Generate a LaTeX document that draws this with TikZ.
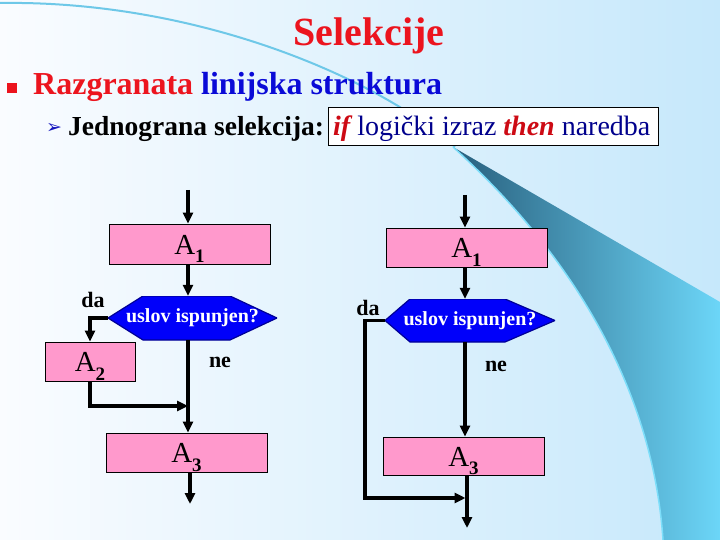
\documentclass[tikz,border=0pt]{standalone}
\usepackage{fontspec}
\setmainfont{Liberation Serif}
\newfontfamily\dejavu{DejaVu Sans}
\usetikzlibrary{arrows.meta}
\definecolor{bgleft}{RGB}{250,252,255}
\definecolor{bgright}{RGB}{198,232,251}
\definecolor{arccol}{RGB}{110,200,232}
\definecolor{swdark}{RGB}{40,95,125}
\definecolor{swlight}{RGB}{108,214,248}
\definecolor{swedge}{RGB}{125,222,250}
\definecolor{titlered}{RGB}{236,20,30}
\definecolor{headblue}{RGB}{10,10,215}
\definecolor{arrowblue}{RGB}{20,20,190}
\definecolor{navy}{RGB}{0,0,140}
\definecolor{ifred}{RGB}{205,10,20}
\definecolor{boxpink}{RGB}{255,153,204}
\definecolor{hexblue}{RGB}{0,0,250}
\definecolor{hexedge}{RGB}{0,0,150}
\newcommand\subidx[1]{\raisebox{-0.3em}{\fontsize{19}{19}\selectfont\bfseries #1}}
\newcommand\Alab[1]{\raisebox{-10pt}[0pt][0pt]{A\subidx{#1}}}
\tikzset{
  box/.style={draw=black, line width=0.8pt, fill=boxpink, minimum width=161pt,
    minimum height=40pt, inner sep=0pt, font=\fontsize{29}{30}\selectfont},
  hexnode/.style 2 args={minimum width=169pt, minimum height=44pt, inner sep=0pt,
    text=white, font=\bfseries\fontsize{20}{22}\selectfont,
    path picture={\filldraw[fill=hexblue, draw=hexedge, line width=1.2pt]
      (path picture bounding box.west)
      -- ([xshift=#1]path picture bounding box.north west)
      -- ([xshift=-#2]path picture bounding box.north east)
      -- (path picture bounding box.east)
      -- ([xshift=-#2]path picture bounding box.south east)
      -- ([xshift=#1]path picture bounding box.south west) -- cycle;}},
  conn/.style={line width=3.6pt, -{Triangle[length=11pt,width=10pt]}},
  lbl/.style={font=\bfseries\fontsize{22}{24}\selectfont, inner sep=0pt}
}
\begin{document}
\begin{tikzpicture}[x=1pt,y=-1pt]
\useasboundingbox (0,0) rectangle (720,540);
% background
\shade[left color=bgleft, right color=bgright] (0,0) rectangle (720,540);
\draw[arccol, line width=2pt] (0,3) .. controls (200,0) and (380,80) .. (455,147);
\shade[left color=swdark, right color=swlight] (453,147) -- (720,302) -- (720,540) -- (663,540)
  .. controls (655,420) and (600,280) .. (453,147) -- cycle;
\draw[swedge, line width=1.5pt] (663,540) .. controls (655,420) and (600,280) .. (453,147);

% header
\node[anchor=base, text=titlered, font=\bfseries\fontsize{40}{42}\selectfont, inner sep=0pt] (title) at (369,46) {Selekcije};
\node[fill=titlered, minimum size=10pt, inner sep=0pt] (sq) at (12,88) {};
\node[anchor=base west, font=\bfseries\fontsize{32}{36}\selectfont, inner sep=0pt] (h1) at (33,95)
  {\textcolor{titlered}{Razgranata} \textcolor{headblue}{linijska struktura}};
\node[anchor=base, text=arrowblue, font=\dejavu\fontsize{19}{19}\selectfont, inner sep=0pt] (arr) at (54,134) {➢};
\node[anchor=base west, font=\bfseries\fontsize{27.5}{30}\selectfont, inner sep=0pt] (h2) at (68,136) {Jednograna selekcija:};
\node[draw=black, fill=white, line width=0.8pt, minimum width=330pt, minimum height=38pt, inner sep=0pt, anchor=west] (ifbox) at (328,126) {};
\node[anchor=base west, font=\fontsize{28}{30}\selectfont, inner sep=0pt] (iftext) at (333,136)
  {\textcolor{ifred}{\bfseries\itshape if} \textcolor{navy}{logički izraz} \textcolor{ifred}{\bfseries\itshape then} \textcolor{navy}{naredba}};

% left diagram
\coordinate (LT) at (188,190);
\node[box] (LA1) at (189.5,244) {\Alab{1}};
\node[hexnode={35pt}{47pt}] (hL) at (192.5,318) {uslov ispunjen?};
\node[box, minimum width=90pt, minimum height=39pt] (LA2) at (90,361.5) {\Alab{2}};
\node[box, minimum height=39pt] (LA3) at (186.5,452.5) {\Alab{3}};
\coordinate (LM) at (188,406);
\coordinate (LB) at (190,504);
\draw[conn] (LT) -- (LT |- LA1.north);
\draw[conn] (LA1.south -| LT) -- (hL.north -| LT);
\draw[conn] (hL.west) -| (LA2.north);
\draw[conn] (LA2.south) |- (LM);
\draw[conn] (hL.south -| LM) -- (LA3.north -| LM);
\draw[conn] (LA3.south -| LB) -- (LB);
\node[lbl] (daL) at (93,300) {da};
\node[lbl] (neL) at (220,362) {ne};

% right diagram
\coordinate (RT) at (465,195);
\node[box, minimum height=39pt] (RA1) at (466.5,247.5) {\Alab{1}};
\node[hexnode={25pt}{50pt}, minimum width=170pt, minimum height=43pt] (hR) at (470,320.5) {uslov ispunjen?};
\node[box, minimum height=38pt] (RA3) at (463.5,456) {\Alab{3}};
\coordinate (RB) at (467,528);
\coordinate (RL) at (365,498);
\draw[conn] (RT) -- (RT |- RA1.north);
\draw[conn] (RA1.south -| RT) -- (hR.north -| RT);
\draw[conn] (hR.south -| RT) -- (RA3.north -| RT);
\draw[conn] (RA3.south -| RB) -- (RB);
\draw[conn, shorten >=1.5pt] (hR.west) -| (RL) -- (RL -| RB);
\node[lbl] (daR) at (368,308) {da};
\node[lbl] (neR) at (496,366) {ne};
\end{tikzpicture}
\end{document}
